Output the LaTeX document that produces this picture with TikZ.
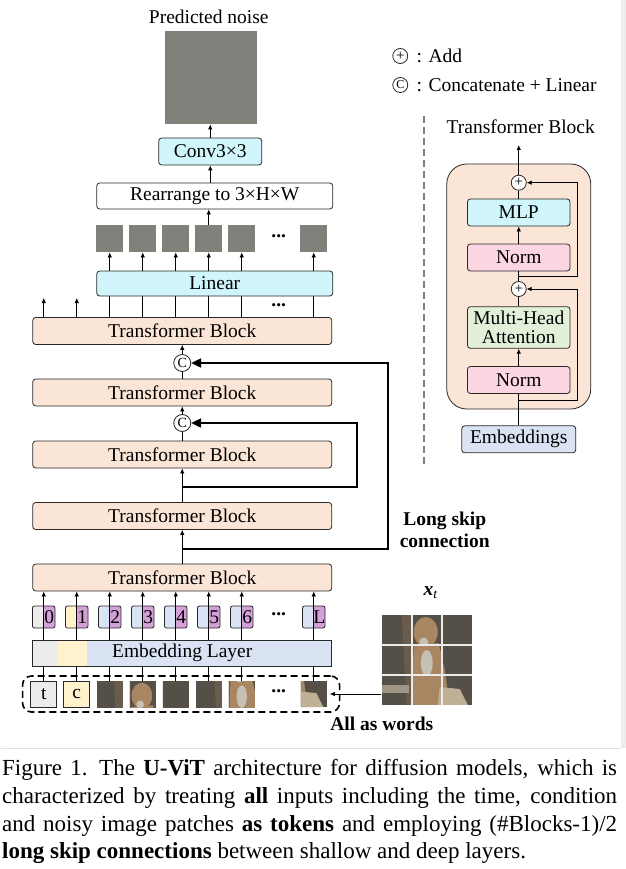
\documentclass[tikz,border=0pt]{standalone}
\usepackage{fontspec}
\setmainfont{Liberation Serif}
\newcommand*{\figfont}{\fontsize{19.5}{22}\selectfont}
\newcommand*{\capfont}{\fontsize{23}{27.7}\selectfont}
\definecolor{peach}{RGB}{251,229,214}
\definecolor{cyanbox}{RGB}{208,245,250}
\definecolor{pinkbox}{RGB}{251,213,225}
\definecolor{greenbox}{RGB}{226,240,217}
\definecolor{bluebox}{RGB}{218,227,243}
\definecolor{graybox}{RGB}{236,236,236}
\definecolor{yellowbox}{RGB}{255,242,204}
\definecolor{purplebox}{RGB}{212,160,216}
\definecolor{noise}{RGB}{130,128,122}
\definecolor{edge}{RGB}{40,40,40}
\definecolor{dogbg}{RGB}{84,80,72}
\definecolor{dogwood}{RGB}{106,92,76}
\definecolor{dogtan}{RGB}{168,134,98}
\definecolor{doglight}{RGB}{198,192,178}
\definecolor{dogpaw}{RGB}{190,176,148}
\definecolor{dogfloor}{RGB}{160,148,132}
\newcommand*{\dogscene}{%
    \fill[dogbg] (0,0) rectangle (90,90);
    \fill[dogwood] (20,0) -- (31,0) -- (33,90) -- (25,90) -- cycle;
    \fill[dogfloor] (0,70) rectangle (27,78);
    \fill[dogtan] (32,30) -- (57,28) -- (63,55) -- (68,90) -- (30,90) -- (31,55) -- cycle;
    \fill[dogtan] (44,17) ellipse (12 and 15);
    \fill[dogpaw] (58,72) -- (78,74) -- (86,90) -- (56,90) -- cycle;
    \fill[doglight] (45,48) ellipse (6 and 13);
    \fill[doglight] (42,27) ellipse (4.5 and 4.5);
}
\newcommand*{\incrop}[4]{%
    \begin{scope}
        \clip (#1,#2) rectangle ++(26,26);
        \begin{scope}[shift={(#1,#2)}, scale=0.8667, shift={(-30*#3,-30*#4)}]\dogscene\end{scope}
    \end{scope}}
\usepackage{tikz}
\usetikzlibrary{arrows.meta}
\usetikzlibrary{positioning}
\tikzstyle{base}=[x=1pt, y=-1pt, line width=0.8pt, >={Latex[length=5pt,width=4.5pt]}]
\tikzstyle{unit}=[draw=edge, rounded corners=3pt, inner sep=0pt, minimum height=27pt]
\tikzstyle{tblock}=[unit, fill=peach, minimum width=299pt]
\tikzstyle{catcirc}=[draw=edge, circle, fill=white, minimum size=17pt, inner sep=0pt, font=\fontsize{14}{14}\selectfont]
\tikzstyle{addcirc}=[draw=edge, circle, fill=white, minimum size=15pt, inner sep=0pt, font=\fontsize{15}{15}\selectfont]
\tikzstyle{skiparrow}=[line width=2pt, -{Triangle[length=10pt,width=9pt]}]
\tikzstyle{noisepatch}=[minimum size=27pt, inner sep=0pt, fill=noise]
\tikzstyle{inbox}=[draw=edge, minimum size=26pt, inner sep=0pt]
\tikzstyle{inpatch}=[minimum size=26pt, inner sep=0pt]
\tikzset{
    tok/.style={draw=edge, rounded corners=2pt, fill=purplebox, minimum width=22.5pt,
        minimum height=22pt, inner sep=0pt,
        path picture={\fill[#1] (path picture bounding box.north west) rectangle (path picture bounding box.south);}}
}

\begin{document}
\begin{tikzpicture}[base]
    \figfont
        % window shadow
        \fill[black!7] (620,0) rectangle (625,748);
        \draw[black!12, line width=1.5pt] (0,748.5) -- (620,748.5);

        % output side
        \node (predlabel) at (208,17) {Predicted noise};
        \node[fill=noise, minimum width=92pt, minimum height=93pt, inner sep=0pt] (noiseimg) at (210,77.5) {};
        \node[unit, fill=cyanbox, minimum width=103pt] (conv) at (209.5,151.5) {Conv3×3};
        \node[unit, fill=white, minimum width=236pt, minimum height=26pt] (rearr) at (214,196) {Rearrange to 3×H×W};
        \node[noisepatch] (p2) at (109,238.5) {};
        \node[noisepatch] (p3) at (142,238.5) {};
        \node[noisepatch] (p4) at (175,238.5) {};
        \node[noisepatch] (p5) at (208,238.5) {};
        \node[noisepatch] (p6) at (241,238.5) {};
        \node[noisepatch] (pL) at (313,238.5) {};
        \node (pdots) at (278,236) {\textbf{...}};
        \node[unit, fill=cyanbox, minimum width=236pt, minimum height=25pt] (lin) at (214,283.5) {Linear};
        \node (ldots) at (278,305) {\textbf{...}};
        \draw[->] (conv.north) -- (noiseimg.south -| conv);
        \draw[->] (rearr.north -| conv) -- (conv.south);
        \draw[->] (p5.north) -- (rearr.south -| p5);
        \foreach \p in {p2,p3,p4,p5,p6,pL}
            \draw[->] (lin.north -| \p) -- (\p.south);

        % transformer stack
        \node[tblock] (tb1) at (181.5,331) {Transformer Block};
        \node[catcirc] (c1) at (181.5,363) {C};
        \node[tblock] (tb2) at (181.5,392.5) {Transformer Block};
        \node[catcirc] (c2) at (181.5,423) {C};
        \node[tblock] (tb3) at (181.5,454.5) {Transformer Block};
        \node[tblock] (tb4) at (181.5,516) {Transformer Block};
        \node[tblock] (tb5) at (181.5,577.5) {Transformer Block};
        \coordinate (o0) at (43,298);
        \coordinate (o1) at (76,298);
        \draw[->] (tb1.north -| o0) -- (o0);
        \draw[->] (tb1.north -| o1) -- (o1);
        \foreach \p in {p2,p3,p4,p5,p6,pL}
            \draw (tb1.north -| \p) -- (lin.south -| \p);
        \draw (tb2.north) -- (c1.south);
        \draw[->] (c1.north) -- (tb1.south);
        \draw (tb3.north) -- (c2.south);
        \draw[->] (c2.north) -- (tb2.south);
        \draw[->] (tb4.north) -- (tb3.south);
        \draw[->] (tb5.north) -- (tb4.south);
        \coordinate (sk1) at (181.5,549);
        \coordinate (sk1r) at (387,549);
        \coordinate (sk2) at (181.5,487);
        \coordinate (sk2r) at (356,487);
        \draw[skiparrow] (sk1) -- (sk1r) |- (c1.east);
        \draw[skiparrow] (sk2) -- (sk2r) |- (c2.east);
        \node[font=\figfont\bfseries, align=center] (skiplabel) at (444,530) {Long skip\\connection};

        % tokens
        \node[tok=graybox] (k0) at (43,617) {};
        \node[tok=yellowbox] (k1) at (76,617) {};
        \node[tok=bluebox] (k2) at (109,617) {};
        \node[tok=bluebox] (k3) at (142,617) {};
        \node[tok=bluebox] (k4) at (175,617) {};
        \node[tok=bluebox] (k5) at (208,617) {};
        \node[tok=bluebox] (k6) at (241,617) {};
        \node[tok=bluebox] (kL) at (313,617) {};
        \foreach \k/\t in {k0/0,k1/1,k2/2,k3/3,k4/4,k5/5,k6/6,kL/L}
            \node at ([xshift=5.6pt]\k.center) {\t};
        \node (kdots) at (278,614) {\textbf{...}};
        \node[unit, rounded corners=0pt, fill=bluebox, minimum width=299pt, minimum height=26pt,
            path picture={\fill[graybox] (path picture bounding box.north west) rectangle ++(25.7,26);
                          \fill[yellowbox] ([xshift=25.7pt]path picture bounding box.north west) rectangle ++(28.3,26);}]
            (emb) at (181.5,653) {Embedding Layer};

        % inputs
        \node[draw, dash pattern=on 7pt off 4pt, line width=1.6pt, rounded corners=9pt,
            minimum width=317pt, minimum height=36pt] (allin) at (180.3,694) {};
        \node[inbox, fill=graybox] (inT) at (43,694) {t};
        \node[inbox, fill=yellowbox] (inC) at (76,694) {c};
        \incrop{96}{681}{0}{0}
        \incrop{129}{681}{1}{0}
        \incrop{162}{681}{2}{0}
        \incrop{195}{681}{0}{1}
        \incrop{228}{681}{1}{1}
        \incrop{300}{681}{2}{2}
        \node[inpatch] (in2) at (109,694) {};
        \node[inpatch] (in3) at (142,694) {};
        \node[inpatch] (in4) at (175,694) {};
        \node[inpatch] (in5) at (208,694) {};
        \node[inpatch] (in6) at (241,694) {};
        \node[inpatch] (inL) at (313,694) {};
        \node (indots) at (278,691) {\textbf{...}};
        \foreach \k/\i in {k0/inT,k1/inC,k2/in2,k3/in3,k4/in4,k5/in5,k6/in6,kL/inL} {
            \draw (\i.north) -- (emb.south -| \i);
            \draw[->] (emb.north -| \k) -- (tb5.south -| \k);
        }
        \node[font=\figfont\bfseries] (wordlabel) at (381,724) {All as words};
        \begin{scope}
            \clip (381,615) rectangle ++(90,89);
            \begin{scope}[shift={(381,615)}]
                \dogscene
                \draw[white!92!black, line width=1.5pt] (30,0) -- (30,90) (60,0) -- (60,90) (0,30) -- (90,30) (0,60) -- (90,60);
            \end{scope}
        \end{scope}
        \node[minimum width=90pt, minimum height=89pt, inner sep=0pt] (xtimg) at (426,659.5) {};
        \node (xtlabel) at (430,593) {\textbf{\textit{x}}\textsubscript{\textit{t}}};
        \coordinate (xin) at (329,694);
        \draw[->] (xtimg.west |- xin) -- (xin);

        % legend and block detail
        \node[addcirc] (addkey) at (399.5,56) {+};
        \node[anchor=west] (addtext) at (409,56) {: Add};
        \node[catcirc, minimum size=15pt, font=\fontsize{12}{12}\selectfont] (catkey) at (399.5,85) {C};
        \node[anchor=west] (cattext) at (409,85) {: Concatenate + Linear};
        \draw[black!50, dash pattern=on 7pt off 4pt, line width=1.5pt] (423,116) -- (423,467);
        \node (tbtitle) at (520,127) {Transformer Block};
        \node[unit, fill=peach, minimum width=144pt, minimum height=245pt, rounded corners=20pt] (tbouter) at (518,286.5) {};
        \coordinate (tbout) at (518,145);
        \coordinate (res1) at (518,400.7);
        \coordinate (res1r) at (577,400.7);
        \coordinate (res2) at (518,276);
        \coordinate (res2r) at (577,276);
        \node[addcirc] (add1) at (518,182.7) {+};
        \node[unit, fill=cyanbox, minimum width=102.6pt] (mlp) at (518,212.5) {MLP};
        \node[unit, fill=pinkbox, minimum width=102.6pt] (norm2) at (518,257.5) {Norm};
        \node[addcirc] (add2) at (518,289) {+};
        \node[unit, fill=greenbox, minimum width=102.6pt, minimum height=41.6pt, align=center,
            font=\fontsize{19.5}{18.5}\selectfont] (mha) at (518,327.5) {Multi-Head\\Attention};
        \node[unit, fill=pinkbox, minimum width=102.6pt] (norm1) at (518,380) {Norm};
        \node[unit, fill=bluebox, minimum width=114pt] (embs) at (518,439.3) {Embeddings};
        \draw (embs.north) -- (norm1.south);
        \draw[->] (norm1.north) -- (mha.south);
        \draw (mha.north) -- (add2.south);
        \draw (add2.north) -- (norm2.south);
        \draw[->] (norm2.north) -- (mlp.south);
        \draw (mlp.north) -- (add1.south);
        \draw[->] (add1.north) -- (tbout);
        \draw[->] (res1) -- (res1r) |- (add2.east);
        \draw[->] (res2) -- (res2r) |- (add1.east);

        % caption
        \node[anchor=north west, text width=615pt, align=justify, inner sep=0pt, font=\capfont] (caption) at (1,759)
            {Figure 1.\enspace The \textbf{U-ViT} architecture for diffusion models, which is\linebreak
             characterized by treating \textbf{all} inputs including the time, condition\linebreak
             and noisy image patches \textbf{as tokens} and employing (\#Blocks-1)/2\linebreak
             \textbf{long skip connections} between shallow and deep layers.};
        \path [use as bounding box] (0,0) rectangle (625,869);
    \end{tikzpicture}
\end{document}
